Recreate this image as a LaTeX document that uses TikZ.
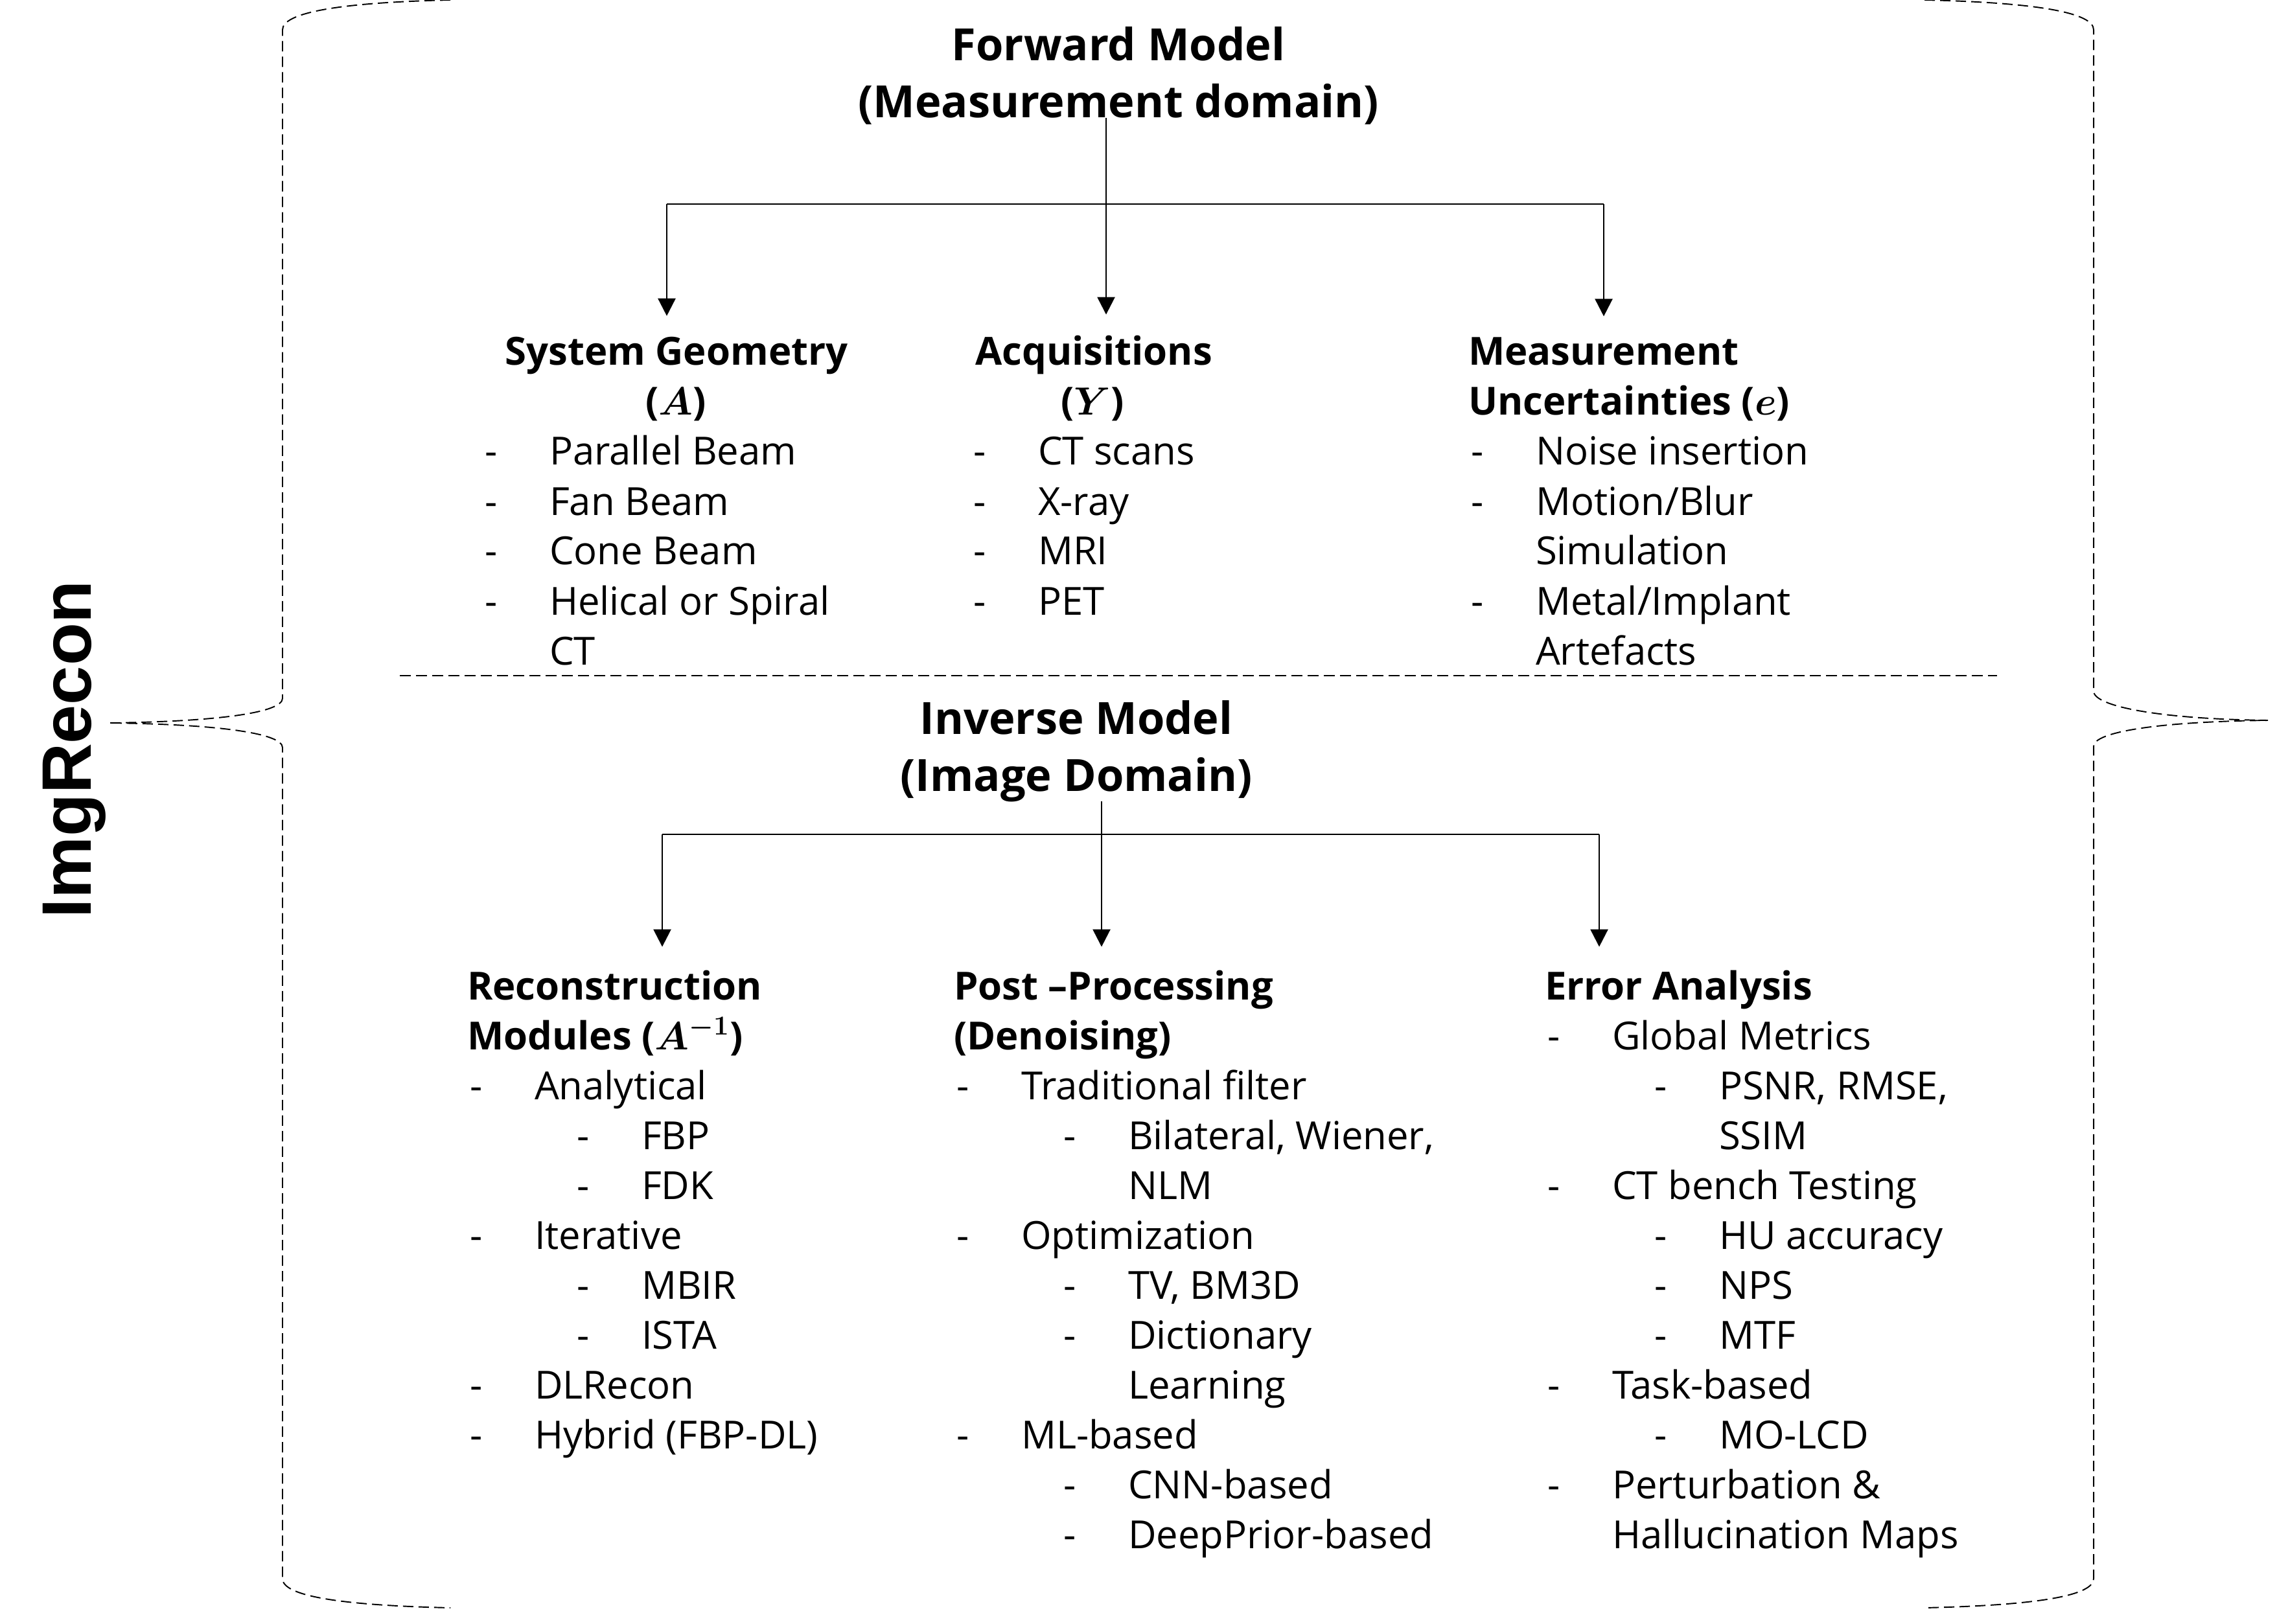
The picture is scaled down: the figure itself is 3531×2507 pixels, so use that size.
\documentclass[tikz,border=0pt]{standalone}
\usepackage{fontspec}
\usepackage{amsmath,bm}
\setmainfont{Open Sans}
\newfontfamily\brandfont{Liberation Sans}
\usetikzlibrary{arrows.meta}
\newcommand{\bul}{\makebox[1.0cm][l]{-}}

\begin{document}
\begin{tikzpicture}[x=0.01cm, y=-0.01cm]
\tikzset{ >={Triangle[length=2.7mm, width=2.7mm]}, inner sep=0pt, outer sep=0pt,
  txt/.style={anchor=base west, font=\fontsize{17}{22}\selectfont},
  hd/.style={anchor=base west, font=\fontsize{17}{22}\selectfont\bfseries},
  hdc/.style={hd, anchor=base},
  ttl/.style={anchor=base, font=\fontsize{19.5}{25}\selectfont\bfseries},
  conn/.style={line width=0.75pt},
  brace/.style={line width=0.55pt, dash pattern=on 0.16cm off 0.08cm},
}
\useasboundingbox (0,0) rectangle (3531,2507);

%\draw [lightgray, dashed](0,0) grid[step=100] (3531,2507);

\node [rotate=90, anchor=base, font=\brandfont\fontsize{30.7}{36}\selectfont\bfseries] (ImgR) at (140,1157) {ImgRecon};

\draw [brace] (695,0) .. controls (520,4) and (436,20) .. (436,46) -- (436,1078)
  .. controls (436,1100) and (337,1114) .. (167,1116)
  .. controls (337,1118) and (436,1132) .. (436,1154) -- (436,2437)
  .. controls (436,2463) and (520,2478) .. (695,2482);
\draw [brace] (2970,0) .. controls (3146,4) and (3231,20) .. (3231,46) -- (3231,1067)
  .. controls (3231,1090) and (3330,1110) .. (3500,1112)
  .. controls (3330,1114) and (3231,1130) .. (3231,1152) -- (3231,2437)
  .. controls (3231,2463) and (3146,2478) .. (2970,2482);

% forward model
\node [ttl] (FW1) at (1726,94)  {Forward Model};
\node [ttl] (FW2) at (1726,182) {(Measurement domain)};

\node [hdc] (SG)  at (1044,564) {System Geometry};
\node [hdc] (SGa) at (1043,641) {($\bm{A}$)};
\node [txt] (SG1) at (748,718)  {\bul Parallel Beam};
\node [txt] (SG2) at (748,795)  {\bul Fan Beam};
\node [txt] (SG3) at (748,872)  {\bul Cone Beam};
\node [txt] (SG4) at (748,949)  {\bul Helical or Spiral};
\node [txt] (SG5) at (848,1026) {CT};

\node [hdc] (AQ)  at (1688,564) {Acquisitions};
\node [hdc] (AQa) at (1686,641) {($\bm{Y}$)};
\node [txt] (AQ1) at (1502,718) {\bul CT scans};
\node [txt] (AQ2) at (1502,795) {\bul X-ray};
\node [txt] (AQ3) at (1502,872) {\bul MRI};
\node [txt] (AQ4) at (1502,949) {\bul PET};

\node [hd]  (MU)  at (2266,564) {Measurement};
\node [hd]  (MUa) at (2266,641) {Uncertainties ($\bm{e}$)};
\node [txt] (MU1) at (2270,718)  {\bul Noise insertion};
\node [txt] (MU2) at (2270,795)  {\bul Motion/Blur};
\node [txt] (MU3) at (2370,872)  {Simulation};
\node [txt] (MU4) at (2270,949)  {\bul Metal/Implant};
\node [txt] (MU5) at (2370,1026) {Artefacts};

\coordinate (FJ) at (1707,315);
\coordinate (FL) at (1029,315);
\coordinate (FR) at (2475,315);
\draw [conn] (FW2.base -| FJ) -- (FJ);
\draw [conn] (FL) -- (FR);
\draw [conn, ->, shorten >=0.33cm] (FL) -- (FL |- SG.north);
\draw [conn, ->, shorten >=0.33cm] (FJ) -- (FJ |- AQ.north);
\draw [conn, ->, shorten >=0.33cm] (FR) -- (FR |- MU.north);

\draw [line width=0.75pt, dash pattern=on 0.17cm off 0.08cm] (617,1043) -- (3082,1043);

% inverse model
\node [ttl] (IV1) at (1661,1133) {Inverse Model};
\node [ttl] (IV2) at (1661,1221) {(Image Domain)};

\node [hd]  (RC)  at (721,1543) {Reconstruction};
\node [hd]  (RCa) at (721,1620) {Modules ($\bm{A^{-1}}$)};
\node [txt] (RC1) at (725,1697) {\bul Analytical};
\node [txt] (RC2) at (890,1774) {\bul FBP};
\node [txt] (RC3) at (890,1851) {\bul FDK};
\node [txt] (RC4) at (725,1928) {\bul Iterative};
\node [txt] (RC5) at (890,2005) {\bul MBIR};
\node [txt] (RC6) at (890,2082) {\bul ISTA};
\node [txt] (RC7) at (725,2159) {\bul DLRecon};
\node [txt] (RC8) at (725,2236) {\bul Hybrid (FBP-DL)};

\node [hd]  (PP)   at (1472,1543) {Post –Processing};
\node [hd]  (PPa)  at (1472,1620) {(Denoising)};
\node [txt] (PP1)  at (1476,1697) {\bul Traditional filter};
\node [txt] (PP2)  at (1641,1774) {\bul Bilateral, Wiener,};
\node [txt] (PP3)  at (1741,1851) {NLM};
\node [txt] (PP4)  at (1476,1928) {\bul Optimization};
\node [txt] (PP5)  at (1641,2005) {\bul TV, BM3D};
\node [txt] (PP6)  at (1641,2082) {\bul Dictionary};
\node [txt] (PP7)  at (1741,2159) {Learning};
\node [txt] (PP8)  at (1476,2236) {\bul ML-based};
\node [txt] (PP9)  at (1641,2313) {\bul CNN-based};
\node [txt] (PP10) at (1641,2390) {\bul DeepPrior-based};

\node [hd]  (EA)   at (2384,1543) {Error Analysis};
\node [txt] (EA1)  at (2388,1620) {\bul Global Metrics};
\node [txt] (EA2)  at (2553,1697) {\bul PSNR, RMSE,};
\node [txt] (EA3)  at (2653,1774) {SSIM};
\node [txt] (EA4)  at (2388,1851) {\bul CT bench Testing};
\node [txt] (EA5)  at (2553,1928) {\bul HU accuracy};
\node [txt] (EA6)  at (2553,2005) {\bul NPS};
\node [txt] (EA7)  at (2553,2082) {\bul MTF};
\node [txt] (EA8)  at (2388,2159) {\bul Task-based};
\node [txt] (EA9)  at (2553,2236) {\bul MO-LCD};
\node [txt] (EA10) at (2388,2313) {\bul Perturbation \&};
\node [txt] (EA11) at (2488,2390) {Hallucination Maps};

\coordinate (IJ) at (1700,1288);
\coordinate (IL) at (1022,1288);
\coordinate (IR) at (2468,1288);
\draw [conn] (IV2.south -| IJ) -- (IJ);
\draw [conn] (IL) -- (IR);
\draw [conn, ->, shorten >=0.36cm] (IL) -- (IL |- RC.north);
\draw [conn, ->, shorten >=0.36cm] (IJ) -- (IJ |- PP.north);
\draw [conn, ->, shorten >=0.36cm] (IR) -- (IR |- EA.north);

\end{tikzpicture}
\end{document}
